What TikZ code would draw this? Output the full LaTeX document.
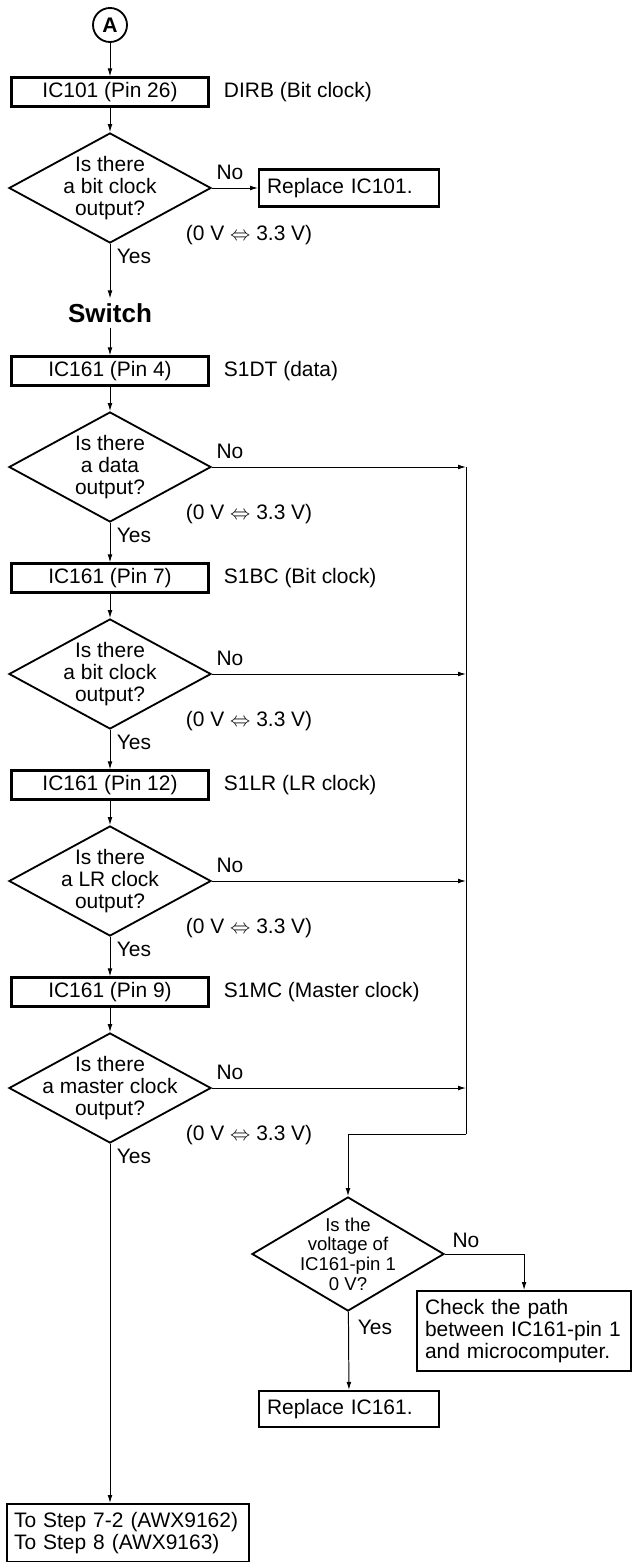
\documentclass[tikz,border=0pt]{standalone}
\usepackage{fontspec}
\setmainfont{Liberation Sans}
\usetikzlibrary{arrows.meta, positioning, shapes.geometric}

\begin{document}
\begin{tikzpicture}[x=0.025cm, y=-0.025cm,
    every node/.style={font=\fontsize{14.9}{15.6}\selectfont},
    stepbox/.style={draw, line width=1.5pt, minimum width=4.925cm, minimum height=0.725cm, inner sep=0pt},
    endbox/.style={draw, line width=1.5pt, align=left, inner xsep=0.2cm, inner ysep=0pt},
    decision/.style={draw, diamond, line width=1.3pt, inner sep=0pt, minimum width=5.05cm, minimum height=2.75cm},
    qtext/.style={align=center},
    flow/.style={line width=0.7pt, -{Latex[length=2mm,width=1.2mm]}},
    wire/.style={line width=0.7pt},
  ]
  \useasboundingbox (0,0) rectangle (632,1562);

  % start
  \node[circle, draw, line width=1.3pt, minimum size=0.85cm, inner sep=0pt,
    font=\bfseries\fontsize{15}{15}\selectfont] (a) at (110,25) {A};

  % five checks down the left column
  \foreach \n/\y/\ic/\sig/\what in {1/188/IC101 (Pin 26)/DIRB (Bit clock)/a bit clock,
      2/467/IC161 (Pin 4)/S1DT (data)/a data,
      3/674/IC161 (Pin 7)/S1BC (Bit clock)/a bit clock,
      4/881/IC161 (Pin 12)/S1LR (LR clock)/a LR clock,
      5/1088/IC161 (Pin 9)/S1MC (Master clock)/a master clock}{
    \node[stepbox] (b\n) at (110,{\y-96}) {\ic};
    \node[anchor=west] (s\n) at (219,{\y-96}) {\sig};
    \node[decision, label={[qtext]center:Is there\\\what\\output?}] (d\n) at (110,\y) {};
    \node (no\n) at (230,{\y-16}) {No};
    \node[anchor=west] (v\n) at (181,{\y+47}) {(0 V $\Leftrightarrow$ 3.3 V)};
    \node (yes\n) at (134,{\y+68}) {Yes};
    \draw[flow] (b\n) -- (d\n);
  }
  \draw[flow] (a) -- (b1);

  \node[endbox, anchor=west, text width=4.1cm, minimum height=0.925cm] (r1) at (258,188) {Replace IC101.};
  \draw[flow] (d1.east) -- (r1.west);

  \node[font=\bfseries\fontsize{18.5}{18.5}\selectfont] (sw) at (110,313) {Switch};
  \draw[flow] (d1) -- (sw);
  \draw[flow] (sw) -- (b2);
  \foreach \m/\n in {2/3,3/4,4/5}
    \draw[flow] (d\m) -- (b\n);

  % collecting line on the right
  \foreach \n/\y in {2/467,3/674,4/881,5/1088}{
    \coordinate (j\n) at (466,\y);
    \draw[flow] (d\n.east) -- (j\n);
  }
  \coordinate (jc) at (466,1134);
  \draw[wire] (j2) -- (jc);

  \node[decision, minimum width=4.8cm, minimum height=2.85cm,
    label={[qtext, font=\fontsize{13.2}{14}\selectfont]center:Is the\\voltage of\\IC161-pin 1\\0 V?}] (d6) at (348,1254) {};
  \draw[flow] (jc) -| (d6);
  \node (no6) at (466,1240) {No};
  \node (yes6) at (375,1327) {Yes};

  \node[endbox, anchor=north west, text width=4.95cm, minimum height=2cm] (chk) at (416,1290)
    {Check the path\\between IC161-pin 1\\and microcomputer.};
  \draw[flow] (d6.east) -| (chk.north);

  \node[endbox, anchor=west, text width=4.1cm, minimum height=0.9cm] (r2) at (258,1409) {Replace IC161.};
  \draw[flow] (d6) -- (r2);

  % exit
  \node[endbox, anchor=north west, text width=5.7cm, minimum height=1.45cm, inner xsep=0.175cm] (out) at (6,1503)
    {To Step 7-2 (AWX9162)\\To Step 8 (AWX9163)};
  \draw[flow] (d5.south) -- (d5.south |- out.north);
\end{tikzpicture}
\end{document}
